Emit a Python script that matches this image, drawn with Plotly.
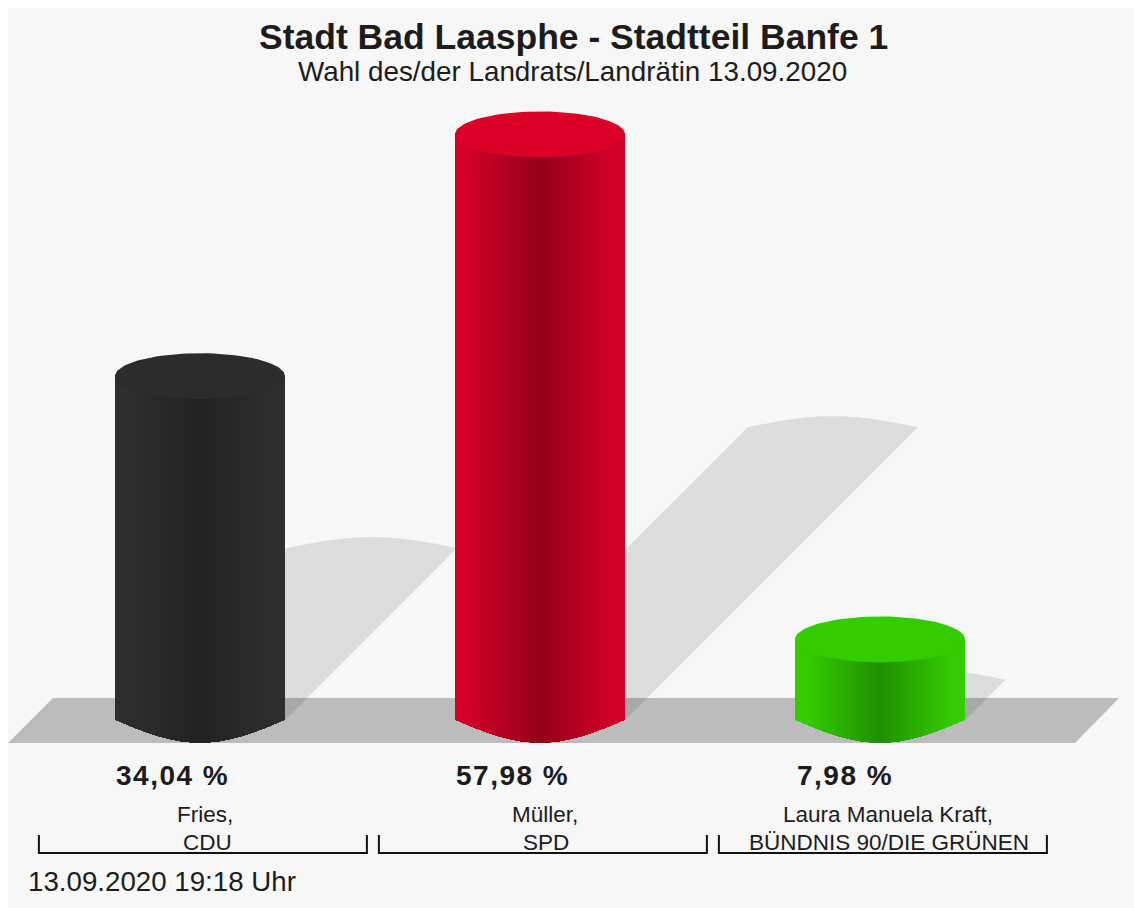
import math

import plotly.graph_objects as go

# Werte aus dem Bild
NAMES = ["Fries,", "Müller,", "Laura Manuela Kraft,"]
PARTIES = ["CDU", "SPD", "BÜNDNIS 90/DIE GRÜNEN"]
VALUES = [34.04, 57.98, 7.98]
TOP_COLORS = ["#2c2c2c", "#dc0029", "#33cc00"]
EDGE_COLORS = ["#2e2e2e", "#d20029", "#33cc00"]
CORE_COLORS = ["#222222", "#930019", "#1f8f00"]

TITLE = "Stadt Bad Laasphe - Stadtteil Banfe 1"
SUBTITLE = "Wahl des/der Landrats/Landrätin 13.09.2020"
STAMP = "13.09.2020 19:18 Uhr"

BG = "#f7f7f7"
FLOOR = "#bcbcbc"
INK = "#1c1c1c"
FONT = "Liberation Sans"

# Seitenpixel -> Achsen: body hat 8px Rand
PAGE_L, PAGE_T = 8, 8
FIG_W, FIG_H = 1126, 900
X0_PX, X_UNIT = 200, 340      # Pixel von Kategorie 0, Pixel je Kategorie
Y0_PX, Y_UNIT = 720, 10.1     # Pixel von 0 %, Pixel je %
HALF_W = 0.25                 # halbe Saeulenbreite
RIM = 23 / Y_UNIT             # Halbachse der Ellipse
N_STRIPS = 170


def px_x(px):
    return (px - X0_PX) / X_UNIT


def px_y(py):
    return (Y0_PX - py) / Y_UNIT


def mix(c1, c2, t):
    a = [int(c1[i:i + 2], 16) for i in (1, 3, 5)]
    b = [int(c2[i:i + 2], 16) for i in (1, 3, 5)]
    return "#%02x%02x%02x" % tuple(round(p + (q - p) * t) for p, q in zip(a, b))


def strip_color(u, edge, core):
    # dunkel in der Mitte, aussen konstant
    t = max(0.0, 1 - abs(u) / 0.85)
    return mix(edge, core, t)


def svg_path(points):
    return "M " + " L ".join(f"{x:.5f},{y:.5f}" for x, y in points) + " Z"


fig = go.Figure()
shapes = []

# Boden
shapes.append(dict(
    type="path", layer="below", line_width=0, fillcolor=FLOOR,
    path=svg_path([(px_x(8), px_y(743)), (px_x(53), px_y(698)),
                   (px_x(1119), px_y(698)), (px_x(1075), px_y(743))]),
))

steps = [i / 40 for i in range(-40, 41)]

for i, v in enumerate(VALUES):
    # Schatten: um halbe Hoehe nach rechts oben geschert
    dx = v * Y_UNIT * 0.5 / X_UNIT
    dy = v * 0.5
    pts = [(i - HALF_W, 0)]
    pts += [(i + u * HALF_W + dx, dy + RIM * 0.48 * math.cos(math.pi * u / 2)) for u in steps]
    pts += [(i + HALF_W, 0)]
    shapes.append(dict(type="path", layer="below", line_width=0,
                       fillcolor="rgba(0,0,0,0.1)", path=svg_path(pts)))

    # Mantel als schmale Streifen, oben unter den Deckel gezogen
    xs, tops, bases, colors = [], [], [], []
    for k in range(N_STRIPS):
        u = -1 + (k + 0.5) * 2 / N_STRIPS
        base = -RIM * math.cos(math.pi * u / 2)
        top = v - RIM * math.sqrt(1 - u * u) + 0.4
        xs.append(i + u * HALF_W)
        bases.append(base)
        tops.append(top - base)
        colors.append(strip_color(u, EDGE_COLORS[i], CORE_COLORS[i]))
    fig.add_trace(go.Bar(x=xs, y=tops, base=bases, width=2 * HALF_W / N_STRIPS,
                         marker=dict(color=colors, line_width=0),
                         hoverinfo="skip", showlegend=False))

    # Deckel
    angles = [a * math.pi / 60 for a in range(121)]
    fig.add_trace(go.Scatter(
        x=[i + HALF_W * math.cos(a) for a in angles],
        y=[v + RIM * math.sin(a) for a in angles],
        mode="lines", fill="toself", fillcolor=TOP_COLORS[i],
        line=dict(color=TOP_COLORS[i], width=0),
        hoverinfo="skip", showlegend=False,
    ))

    # Klammer unter dem Namen
    cx = i + 0.0085
    half = 164 / X_UNIT
    fig.add_trace(go.Scatter(
        x=[cx - half, cx - half, cx + half, cx + half],
        y=[px_y(835), px_y(853), px_y(853), px_y(835)],
        mode="lines", line=dict(color="#111111", width=2),
        hoverinfo="skip", showlegend=False,
    ))


def label(text, px, py, size, bold=False, anchor="center", spacing=0):
    if spacing:
        text = f'<span style="letter-spacing:{spacing}px">{text}</span>'
    fig.add_annotation(
        text=text, xref="paper", yref="paper", showarrow=False,
        x=(px - PAGE_L) / FIG_W, y=1 - (py - PAGE_T) / FIG_H,
        xanchor=anchor, yanchor="middle",
        font=dict(family=FONT, size=size, color=INK,
                  weight="bold" if bold else "normal"),
    )


label(TITLE, 574, 37, 35.5, bold=True)
label(SUBTITLE, 572, 71, 27.8)

VALUE_X = [172, 513, 845]
NAME_X = [205, 545, 888]
PARTY_X = [207, 546, 889]
for i, v in enumerate(VALUES):
    label(f"{v:.2f}".replace(".", ",") + " %", VALUE_X[i], 775, 28, bold=True, spacing=1.5)
    label(NAMES[i], NAME_X[i], 814, 22.5)
    label(PARTIES[i], PARTY_X[i], 842, 22.5)
label(STAMP, 26, 881, 27.7, anchor="left")

fig.update_layout(
    width=FIG_W, height=FIG_H,
    margin=dict(l=0, r=0, t=0, b=0),
    paper_bgcolor=BG, plot_bgcolor="rgba(0,0,0,0)",
    barmode="overlay", bargap=0,
    shapes=shapes,
    xaxis=dict(visible=False, fixedrange=True,
               range=[px_x(PAGE_L), px_x(PAGE_L + FIG_W)]),
    yaxis=dict(visible=False, fixedrange=True,
               range=[px_y(PAGE_T + FIG_H), px_y(PAGE_T)]),
)

# body bis zum rechten Fensterrand
fig.write_html("out.html", config={"displayModeBar": False, "responsive": False},
               post_script="document.body.style.width = '1126px';")
